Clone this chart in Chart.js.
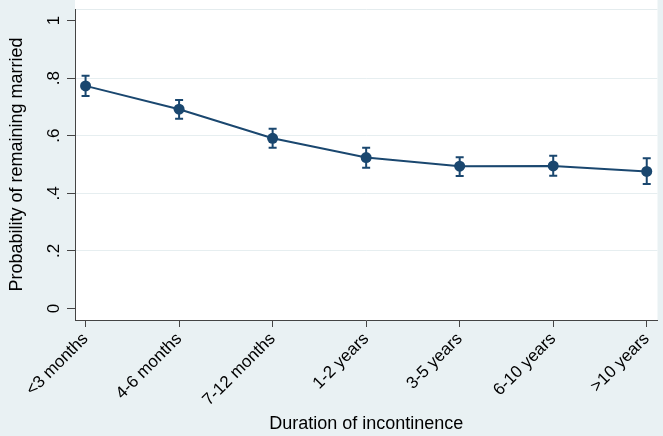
<!DOCTYPE html>
<html>
<head>
<meta charset="utf-8">
<script src="https://cdn.jsdelivr.net/npm/chart.js"></script>
<style>
  body {
    margin: 0;
    background: #e9f1f3;
  }
  .taille {
    width: 663px;
    height: 436px;
  }
</style>
</head>
<body>
<div class="taille">
  <canvas id="myChart"></canvas>
</div>

<script>
const categories = ['<3 months', '4-6 months', '7-12 months', '1-2 years', '3-5 years', '6-10 years', '>10 years'];
const prob = [0.773, 0.692, 0.591, 0.524, 0.494, 0.495, 0.476];
const ciLow = [0.738, 0.659, 0.558, 0.489, 0.460, 0.461, 0.432];
const ciHigh = [0.808, 0.724, 0.624, 0.558, 0.525, 0.530, 0.522];
const yTicks = [0, 0.2, 0.4, 0.6, 0.8, 1];
const yTickLabels = ['0', '.2', '.4', '.6', '.8', '1'];

const navy = '#1a476f';
const axisColor = '#444';

// white plot region + faint top border
const plotBg = {
  id: 'plotBg',
  beforeDraw(chart) {
    const { ctx, chartArea } = chart;
    ctx.save();
    ctx.fillStyle = '#ffffff';
    ctx.fillRect(chartArea.left, 0, chartArea.right - chartArea.left, chartArea.bottom);
    ctx.strokeStyle = '#e4ecee';
    ctx.lineWidth = 1;
    ctx.beginPath();
    ctx.moveTo(chartArea.left, chartArea.top + 0.5);
    ctx.lineTo(chartArea.right, chartArea.top + 0.5);
    ctx.stroke();
    ctx.restore();
  }
};

// confidence interval caps
const errorBars = {
  id: 'errorBars',
  beforeDatasetsDraw(chart) {
    const { ctx, scales } = chart;
    ctx.save();
    ctx.strokeStyle = navy;
    ctx.lineWidth = 2;
    for (let i = 0; i < categories.length; i++) {
      const px = scales.x.getPixelForValue(i);
      const yLo = scales.y.getPixelForValue(ciLow[i]);
      const yHi = scales.y.getPixelForValue(ciHigh[i]);
      ctx.beginPath();
      ctx.moveTo(px, yLo);
      ctx.lineTo(px, yHi);
      ctx.moveTo(px - 4, yLo);
      ctx.lineTo(px + 4, yLo);
      ctx.moveTo(px - 4, yHi);
      ctx.lineTo(px + 4, yHi);
      ctx.stroke();
    }
    ctx.restore();
  }
};

const dataChart = {
  datasets: [
    {
      label: 'Probability',
      data: prob.map((v, i) => ({ x: i, y: v })),
      borderColor: navy,
      backgroundColor: navy,
      borderWidth: 2,
      pointRadius: 5.5,
      pointBackgroundColor: navy,
      pointBorderWidth: 0,
      fill: false,
      tension: 0,
    }
  ]
};

const configChart = {
  type: 'line',
  data: dataChart,
  options: {
    responsive: true,
    maintainAspectRatio: false,
    animation: false,
    layout: { padding: { top: 9, right: 0, left: 0, bottom: 0 } },
    plugins: {
      legend: { display: false },
      tooltip: { enabled: false },
    },
    scales: {
      x: {
        type: 'linear',
        min: -0.113,
        max: 6.115,
        afterBuildTicks: (scale) => { scale.ticks = categories.map((c, i) => ({ value: i })); },
        afterFit: (scale) => {
          scale.height = 116;
          scale.paddingLeft = 0;
          scale.paddingRight = 0;
        },
        ticks: {
          callback: (v) => categories[v],
          autoSkip: false,
          minRotation: 45,
          maxRotation: 45,
          color: '#000',
          font: { family: 'Liberation Sans, Arial', size: 17 },
          padding: 2,
        },
        grid: {
          drawOnChartArea: false,
          tickColor: axisColor,
          tickLength: 7,
        },
        border: { display: true, color: axisColor, width: 1 },
        title: {
          display: true,
          text: 'Duration of incontinence',
          color: '#000',
          font: { family: 'Liberation Sans, Arial', size: 18 },
          padding: { top: 0, bottom: 1 },
        }
      },
      y: {
        min: -0.04,
        max: 1.04,
        afterBuildTicks: (scale) => { scale.ticks = yTicks.map(v => ({ value: v })); },
        afterFit: (scale) => {
          scale.width = 75;
          scale.paddingTop = 0;
          scale.paddingBottom = 0;
        },
        ticks: {
          callback: (v) => yTickLabels[yTicks.indexOf(v)],
          autoSkip: false,
          minRotation: 90,
          maxRotation: 90,
          crossAlign: 'center',
          color: '#000',
          font: { family: 'Liberation Sans, Arial', size: 17 },
          padding: 6,
        },
        grid: {
          color: (c) => (c.tick && (c.tick.value === 0 || c.tick.value === 1)) ? 'rgba(0,0,0,0)' : '#e6eef0',
          lineWidth: 1,
          tickColor: axisColor,
          tickLength: 8,
        },
        border: { display: true, color: axisColor, width: 1 },
        title: {
          display: true,
          text: 'Probability of remaining married',
          color: '#000',
          font: { family: 'Liberation Sans, Arial', size: 18 },
          padding: { top: 6, bottom: 0 },
        }
      }
    }
  },
  plugins: [plotBg, errorBars]
};

const myChart = new Chart(
  document.getElementById('myChart'),
  configChart
);
</script>
</body>
</html>
